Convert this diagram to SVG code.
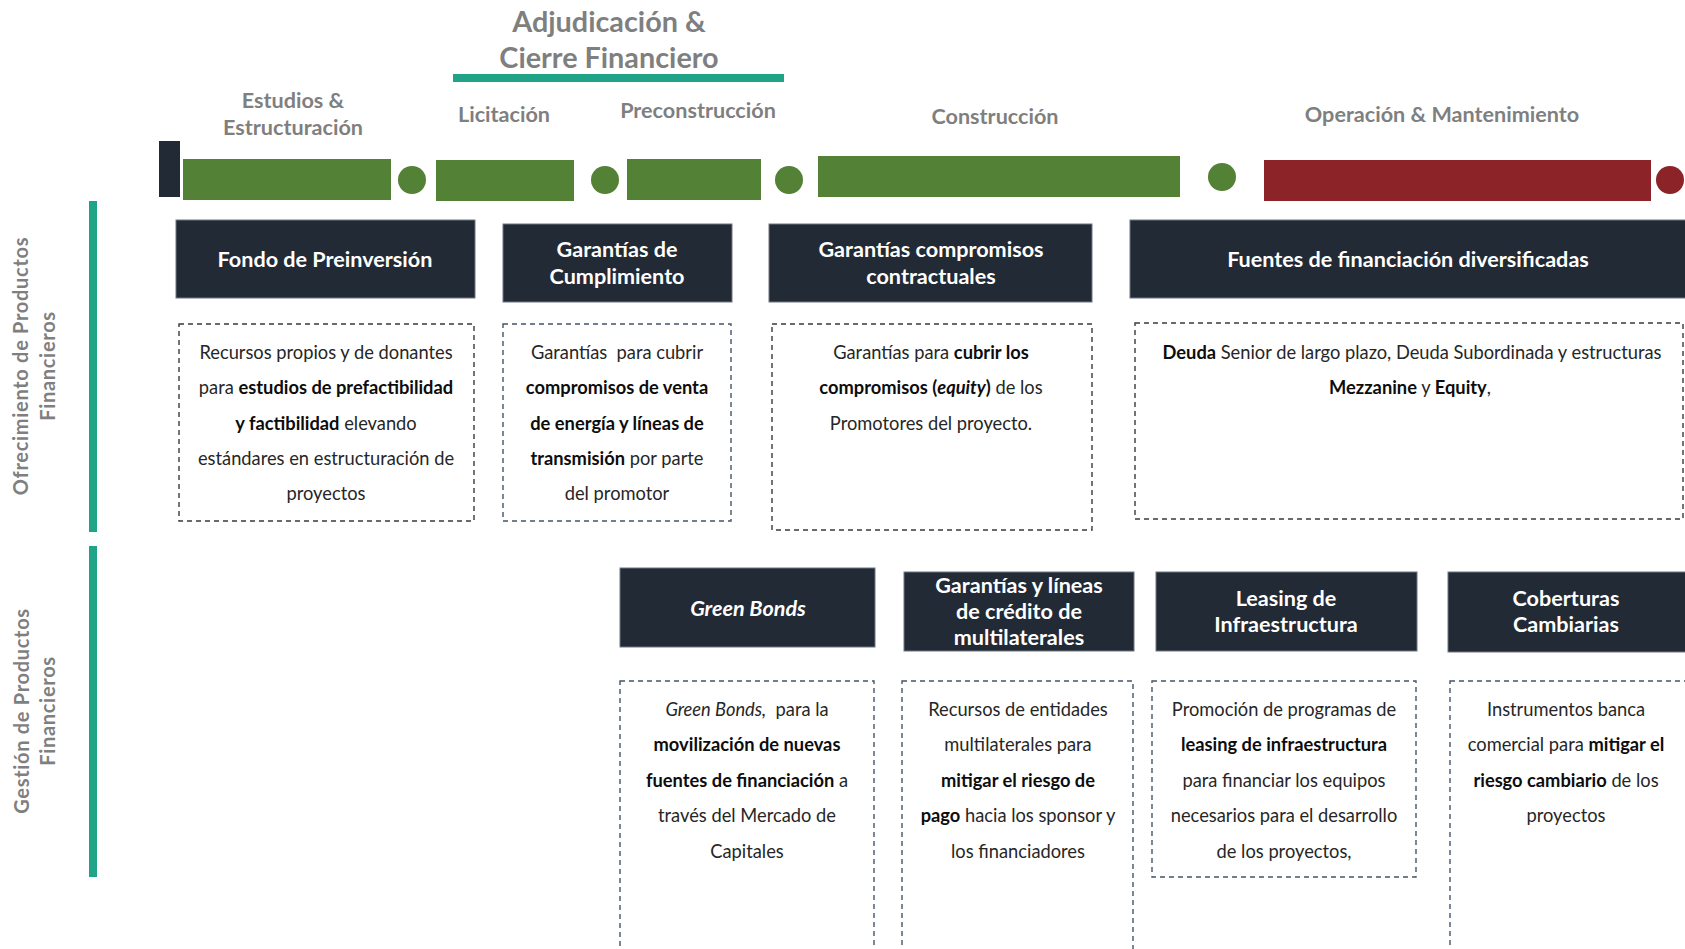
<svg xmlns="http://www.w3.org/2000/svg" width="1685" height="949" viewBox="0 0 1685 949">
<style>
.title{font-family:Lato,"Liberation Sans",sans-serif;font-weight:700;font-size:28.8px;fill:#7f7f7f;text-anchor:middle}
.phase{font-family:Lato,"Liberation Sans",sans-serif;font-weight:700;font-size:21.6px;fill:#7f7f7f;text-anchor:middle}
.side{font-family:Lato,"Liberation Sans",sans-serif;font-weight:700;font-size:20px;fill:#7f7f7f;text-anchor:middle;letter-spacing:0.7px}
.hdr{fill:#222a35;stroke:#6f7782;stroke-width:1}
.ht{font-family:Lato,"Liberation Sans",sans-serif;font-weight:700;font-size:21.6px;fill:#ffffff;text-anchor:middle}
.box{fill:none;stroke:#3a3a3a;stroke-width:1.4;stroke-dasharray:5 4}
.boxb{fill:none;stroke:#44546a;stroke-width:1.4;stroke-dasharray:5 4}
.d{font-family:Lato,"Liberation Sans",sans-serif;font-size:18.3px;fill:#262626;text-anchor:middle}
.b{font-weight:700;fill:#0d0d0d}
.i{font-style:italic}
.green{fill:#538135}
.red{fill:#8b2329}
.teal{fill:#20a387}
</style>

<g id="title">
<text class="title" x="609" y="32">Adjudicación &amp;</text>
<text class="title" x="609" y="68">Cierre Financiero</text>
<rect class="teal" x="453" y="74" width="331" height="8"/>
</g>

<g id="phases">
<text class="phase" x="293" y="108">Estudios &amp;</text>
<text class="phase" x="293" y="135">Estructuración</text>
<text class="phase" x="504" y="122">Licitación</text>
<text class="phase" x="698" y="118">Preconstrucción</text>
<text class="phase" x="995" y="124">Construcción</text>
<text class="phase" x="1442" y="122">Operación &amp; Mantenimiento</text>
</g>

<g id="timeline">
<rect x="159" y="141" width="21" height="56" fill="#222a35"/>
<rect class="green" x="183" y="159" width="208" height="41"/>
<circle class="green" cx="412" cy="180" r="14"/>
<rect class="green" x="436" y="160" width="138" height="41"/>
<circle class="green" cx="605" cy="180" r="14"/>
<rect class="green" x="627" y="159" width="134" height="41"/>
<circle class="green" cx="789" cy="180" r="14"/>
<rect class="green" x="818" y="156" width="362" height="41"/>
<circle class="green" cx="1222" cy="177" r="14"/>
<rect class="red" x="1264" y="160" width="387" height="41"/>
<circle class="red" cx="1670" cy="180" r="14"/>
</g>

<g id="side-labels">
<rect class="teal" x="89" y="201" width="8" height="331"/>
<text class="side" transform="translate(28,366) rotate(-90)">Ofrecimiento de Productos</text>
<text class="side" transform="translate(55,366) rotate(-90)">Financieros</text>
<rect class="teal" x="89" y="546" width="8" height="331"/>
<text class="side" transform="translate(29,711) rotate(-90)">Gestión de Productos</text>
<text class="side" transform="translate(55,711) rotate(-90)">Financieros</text>
</g>

<g id="fondo-preinversion">
<rect class="hdr" x="176" y="220" width="299" height="78"/>
<text class="ht" x="325" y="267">Fondo de Preinversión</text>
</g>
<g id="fondo-preinversion-desc">
<rect class="box" x="179" y="324" width="295" height="197"/>
<text class="d" x="326" y="359">Recursos propios y de donantes</text>
<text class="d" x="326" y="394">para <tspan class="b">estudios de prefactibilidad</tspan></text>
<text class="d" x="326" y="430"><tspan class="b">y factibilidad</tspan> elevando</text>
<text class="d" x="326" y="465">estándares en estructuración de</text>
<text class="d" x="326" y="500">proyectos</text>
</g>

<g id="garantias-cumplimiento">
<rect class="hdr" x="503" y="224" width="229" height="78"/>
<text class="ht" x="617" y="257">Garantías de</text>
<text class="ht" x="617" y="284">Cumplimiento</text>
</g>
<g id="garantias-cumplimiento-desc">
<rect class="boxb" x="503" y="324" width="228" height="197"/>
<text class="d" x="617" y="359" xml:space="preserve">Garantías  para cubrir</text>
<text class="d b" x="617" y="394">compromisos de venta</text>
<text class="d b" x="617" y="430">de energía y líneas de</text>
<text class="d" x="617" y="465"><tspan class="b">transmisión</tspan> por parte</text>
<text class="d" x="617" y="500">del promotor</text>
</g>

<g id="garantias-contractuales">
<rect class="hdr" x="769" y="224" width="323" height="78"/>
<text class="ht" x="931" y="257">Garantías compromisos</text>
<text class="ht" x="931" y="284">contractuales</text>
</g>
<g id="garantias-contractuales-desc">
<rect class="box" x="772" y="324" width="320" height="206"/>
<text class="d" x="931" y="359">Garantías para <tspan class="b">cubrir los</tspan></text>
<text class="d" x="931" y="394"><tspan class="b">compromisos (<tspan class="i">equity</tspan>)</tspan> de los</text>
<text class="d" x="931" y="430">Promotores del proyecto.</text>
</g>

<g id="fuentes-financiacion">
<rect class="hdr" x="1130" y="220" width="560" height="78"/>
<text class="ht" x="1408" y="267">Fuentes de financiación diversificadas</text>
</g>
<g id="fuentes-financiacion-desc">
<rect class="box" x="1135" y="323" width="548" height="196"/>
<text class="d" x="1412" y="359"><tspan class="b">Deuda</tspan> Senior de largo plazo, Deuda Subordinada y estructuras</text>
<text class="d" x="1410" y="394"><tspan class="b">Mezzanine</tspan> y <tspan class="b">Equity</tspan>,</text>
</g>

<g id="green-bonds">
<rect class="hdr" x="620" y="568" width="255" height="79"/>
<text class="ht i" x="748" y="616">Green Bonds</text>
</g>
<g id="green-bonds-desc">
<rect class="boxb" x="620" y="681" width="254" height="270"/>
<text class="d" x="747" y="716" xml:space="preserve"><tspan class="i">Green Bonds,</tspan>  para la</text>
<text class="d b" x="747" y="751">movilización de nuevas</text>
<text class="d" x="747" y="787"><tspan class="b">fuentes de financiación</tspan> a</text>
<text class="d" x="747" y="822">través del Mercado de</text>
<text class="d" x="747" y="858">Capitales</text>
</g>

<g id="garantias-multilaterales">
<rect class="hdr" x="904" y="572" width="230" height="79"/>
<text class="ht" x="1019" y="593">Garantías y líneas</text>
<text class="ht" x="1019" y="619">de crédito de</text>
<text class="ht" x="1019" y="645">multilaterales</text>
</g>
<g id="garantias-multilaterales-desc">
<rect class="boxb" x="902" y="681" width="231" height="270"/>
<text class="d" x="1018" y="716">Recursos de entidades</text>
<text class="d" x="1018" y="751">multilaterales para</text>
<text class="d b" x="1018" y="787">mitigar el riesgo de</text>
<text class="d" x="1018" y="822"><tspan class="b">pago</tspan> hacia los sponsor y</text>
<text class="d" x="1018" y="858">los financiadores</text>
</g>

<g id="leasing">
<rect class="hdr" x="1156" y="572" width="261" height="79"/>
<text class="ht" x="1286" y="606">Leasing de</text>
<text class="ht" x="1286" y="632">Infraestructura</text>
</g>
<g id="leasing-desc">
<rect class="boxb" x="1152" y="681" width="264" height="196"/>
<text class="d" x="1284" y="716">Promoción de programas de</text>
<text class="d b" x="1284" y="751">leasing de infraestructura</text>
<text class="d" x="1284" y="787">para financiar los equipos</text>
<text class="d" x="1284" y="822">necesarios para el desarrollo</text>
<text class="d" x="1284" y="858">de los proyectos,</text>
</g>

<g id="coberturas">
<rect class="hdr" x="1448" y="572" width="242" height="80"/>
<text class="ht" x="1566" y="606">Coberturas</text>
<text class="ht" x="1566" y="632">Cambiarias</text>
</g>
<g id="coberturas-desc">
<rect class="boxb" x="1450" y="681" width="240" height="270"/>
<text class="d" x="1566" y="716">Instrumentos banca</text>
<text class="d" x="1566" y="751">comercial para <tspan class="b">mitigar el</tspan></text>
<text class="d" x="1566" y="787"><tspan class="b">riesgo cambiario</tspan> de los</text>
<text class="d" x="1566" y="822">proyectos</text>
</g>

<g id="connectors"></g>
</svg>
